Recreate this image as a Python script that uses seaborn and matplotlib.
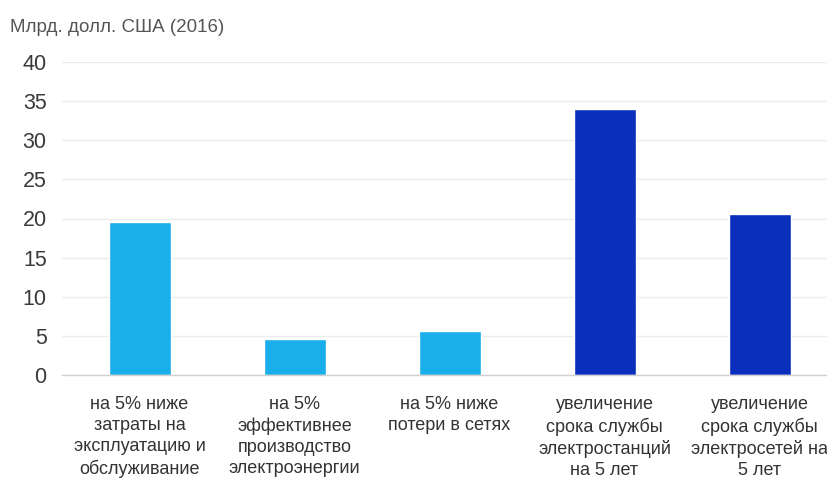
import matplotlib
matplotlib.use("Agg")
import matplotlib.pyplot as plt
import seaborn as sns
import pandas as pd

categories = [
    "на 5% ниже\nзатраты на\nэксплуатацию и\nобслуживание",
    "на 5%\nэффективнее\nпроизводство\nэлектроэнергии",
    "на 5% ниже\nпотери в сетях",
    "увеличение\nсрока службы\nэлектростанций\nна 5 лет",
    "увеличение\nсрока службы\nэлектросетей на\n5 лет",
]
values = [19.5, 4.6, 5.6, 34.0, 20.6]
bar_colors = ["#1aaeea", "#1aaeea", "#1aaeea", "#0a2fbd", "#0a2fbd"]
yticks = [0, 5, 10, 15, 20, 25, 30, 35, 40]
unit_label = "Млрд. долл. США (2016)"

sns.set_theme(style="white")
plt.rcParams["font.family"] = ["Liberation Sans", "DejaVu Sans"]

df = pd.DataFrame({"cat": categories, "val": values})

fig = plt.figure(figsize=(8.28, 4.87), dpi=100)
ax = fig.add_axes([62 / 828, 1 - 375 / 487, (837 - 62) / 828, (375 - 62) / 487])
sns.barplot(data=df, x="cat", y="val", hue="cat", palette=bar_colors,
            legend=False, width=0.4, ax=ax, saturation=1)

ax.set_ylim(0, 40)
ax.set_xlim(-0.5, 4.5)
ax.set_yticks(yticks)
ax.set_yticklabels([str(t) for t in yticks], fontsize=15.5, color="#3a3a3a")
ax.yaxis.grid(True, color="#ececec", linewidth=1)
ax.set_axisbelow(True)
ax.set_xlabel("")
ax.set_ylabel("")
ax.tick_params(axis="y", length=0, pad=11)
ax.tick_params(axis="x", which="major", length=0, pad=15, labelsize=13, labelcolor="#333333")
for lbl in ax.get_xticklabels():
    lbl.set_linespacing(1.32)
ax.set_xticks([i - 0.5 for i in range(len(categories) + 1)], minor=True)
ax.tick_params(axis="x", which="minor", length=5, color="#cccccc", width=1)
for s in ["left", "right", "top"]:
    ax.spines[s].set_visible(False)
ax.spines["bottom"].set_color("#d0d0d0")
ax.spines["bottom"].set_linewidth(1)

fig.text(10 / 828, 1 - 28 / 487, unit_label, fontsize=13.5, color="#555555",
         ha="left", va="center")

fig.savefig("out.png", dpi=100)
